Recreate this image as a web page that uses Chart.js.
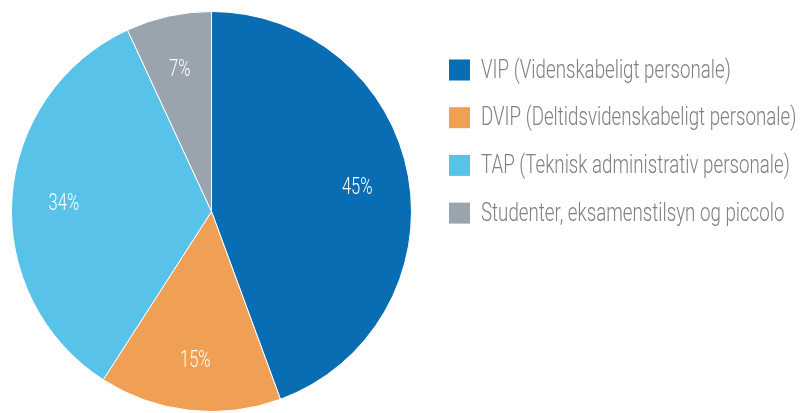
<!DOCTYPE html>
<html>
<head>
<meta charset="utf-8">
<script src="https://cdn.jsdelivr.net/npm/chart.js@4/dist/chart.umd.min.js"></script>
<style>
  html, body { margin: 0; padding: 0; background: #fff; }
  #wrap { position: relative; width: 801px; height: 413px; }
</style>
</head>
<body>
<div id="wrap"><canvas id="pie"></canvas></div>
<script>
// Staff groups, share of total
const categories = [
  'VIP (Videnskabeligt personale)',
  'DVIP (Deltidsvidenskabeligt personale)',
  'TAP (Teknisk administrativ personale)',
  'Studenter, eksamenstilsyn og piccolo',
];
const shares = [44.4, 14.7, 34.0, 6.9];
const shareLabels = ['45%', '15%', '34%', '7%'];
const colors = ['#086db2', '#f0a054', '#58c2e8', '#9aa4ae'];

const FONT = 'Roboto, "Liberation Sans", sans-serif';
const SQUEEZE = 0.72; // fake a condensed face

// ---------------------------------------------------------
// Percentage labels inside slices
// ---------------------------------------------------------
const sliceLabels = {
  id: 'sliceLabels',
  afterDatasetsDraw(chart) {
    const ctx = chart.ctx;
    const meta = chart.getDatasetMeta(0);
    ctx.save();
    ctx.font = '300 23px ' + FONT;
    ctx.fillStyle = '#ffffff';
    ctx.textAlign = 'center';
    ctx.textBaseline = 'middle';
    meta.data.forEach((arc, i) => {
      const p = arc.getProps(['x', 'y', 'startAngle', 'endAngle', 'outerRadius'], true);
      const mid = (p.startAngle + p.endAngle) / 2;
      const r = p.outerRadius * 0.74;
      const txt = shareLabels[i];
      const w = ctx.measureText(txt).width * SQUEEZE;
      ctx.fillText(txt, p.x + Math.cos(mid) * r, p.y + Math.sin(mid) * r + 3, w);
    });
    ctx.restore();
  },
};

// ---------------------------------------------------------
// Right-hand legend
// ---------------------------------------------------------
const sideLegend = {
  id: 'sideLegend',
  afterDraw(chart) {
    const ctx = chart.ctx;
    const boxX = 449, box = 21, textX = 481, top = 70, step = 47.7;
    ctx.save();
    ctx.font = '300 26px ' + FONT;
    ctx.textBaseline = 'middle';
    ctx.textAlign = 'left';
    chart.data.labels.forEach((label, i) => {
      const cy = top + i * step;
      ctx.fillStyle = colors[i];
      ctx.fillRect(boxX, cy - box / 2, box, box);
      ctx.fillStyle = '#7f7f7f';
      const w = ctx.measureText(label).width * SQUEEZE;
      ctx.fillText(label, textX, cy + 1, w);
    });
    ctx.restore();
  },
};

new Chart(document.getElementById('pie'), {
  type: 'pie',
  data: {
    labels: categories,
    datasets: [{
      data: shares,
      backgroundColor: colors,
      borderColor: '#ffffff',
      borderWidth: 1,
    }],
  },
  options: {
    responsive: true,
    maintainAspectRatio: false,
    animation: false,
    layout: { padding: { left: 11, right: 389, top: 11, bottom: 1 } },
    plugins: {
      legend: { display: false },
      tooltip: { enabled: false },
    },
  },
  plugins: [sliceLabels, sideLegend],
});
</script>
</body>
</html>
